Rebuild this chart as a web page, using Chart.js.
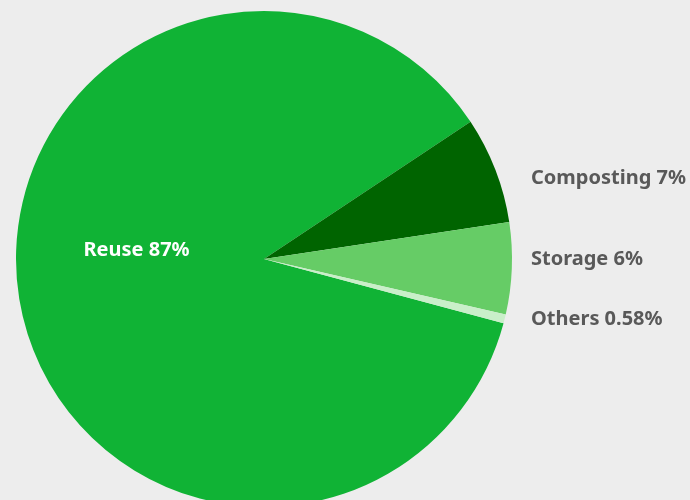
<!DOCTYPE html>
<html>
<head>
<meta charset="utf-8">
<script src="https://cdn.jsdelivr.net/npm/chart.js@4.4.1/dist/chart.umd.min.js"></script>
<style>
  html, body { margin: 0; padding: 0; background: #ededed; overflow: hidden; }
  #wrap { position: relative; width: 690px; height: 518px; }
</style>
</head>
<body>
<div id="wrap"><canvas id="wasteChart"></canvas></div>
<script>
// -------------------- DATA --------------------
const categories = ["Reuse", "Composting", "Storage", "Others"];
const shares = [87, 7, 6, 0.58];
const shareLabels = ["87%", "7%", "6%", "0.58%"];
const sliceColors = ["#10b335", "#006400", "#66cc66", "#c9efc9"];

// -------------------- LABELS --------------------
// Reuse sits inside its slice, the small ones are listed on the right
const sliceLabels = {
  id: "sliceLabels",
  afterDatasetsDraw(chart, args, opts) {
    const ctx = chart.ctx;
    const arcs = chart.getDatasetMeta(0).data;

    ctx.save();
    ctx.font = opts.font;
    ctx.textBaseline = "middle";
    ctx.textAlign = "left";

    arcs.forEach((arc, i) => {
      const text = `${categories[i]} ${shareLabels[i]}`;
      const mid = (arc.startAngle + arc.endAngle) / 2;
      const r = arc.outerRadius;

      if (i === 0) {
        ctx.fillStyle = opts.innerColor;
        ctx.fillText(text, arc.x - r * 0.728, arc.y - 9);
      } else {
        ctx.fillStyle = opts.outerColor;
        const y = arc.y + r * Math.sin(mid) + opts.nudge[i];
        ctx.fillText(text, arc.x + r + 19, y);
      }
    });

    ctx.restore();
  }
};

window.addEventListener("load", () => {
  const canvas = document.getElementById("wasteChart");

  new Chart(canvas, {
    type: "pie",
    data: {
      labels: categories,
      datasets: [{
        data: shares,
        backgroundColor: sliceColors,
        borderWidth: 0
      }]
    },
    options: {
      responsive: true,
      maintainAspectRatio: false,
      animation: false,
      rotation: 105,
      layout: {
        padding: { left: 16, right: 178, top: 11, bottom: 11 }
      },
      plugins: {
        legend: { display: false },
        tooltip: { enabled: false },
        sliceLabels: {
          font: "bold 20px 'Noto Sans'",
          innerColor: "#ffffff",
          outerColor: "#595959",
          nudge: [0, 8, -9, 0]
        }
      }
    },
    plugins: [sliceLabels]
  });
});
</script>
</body>
</html>
